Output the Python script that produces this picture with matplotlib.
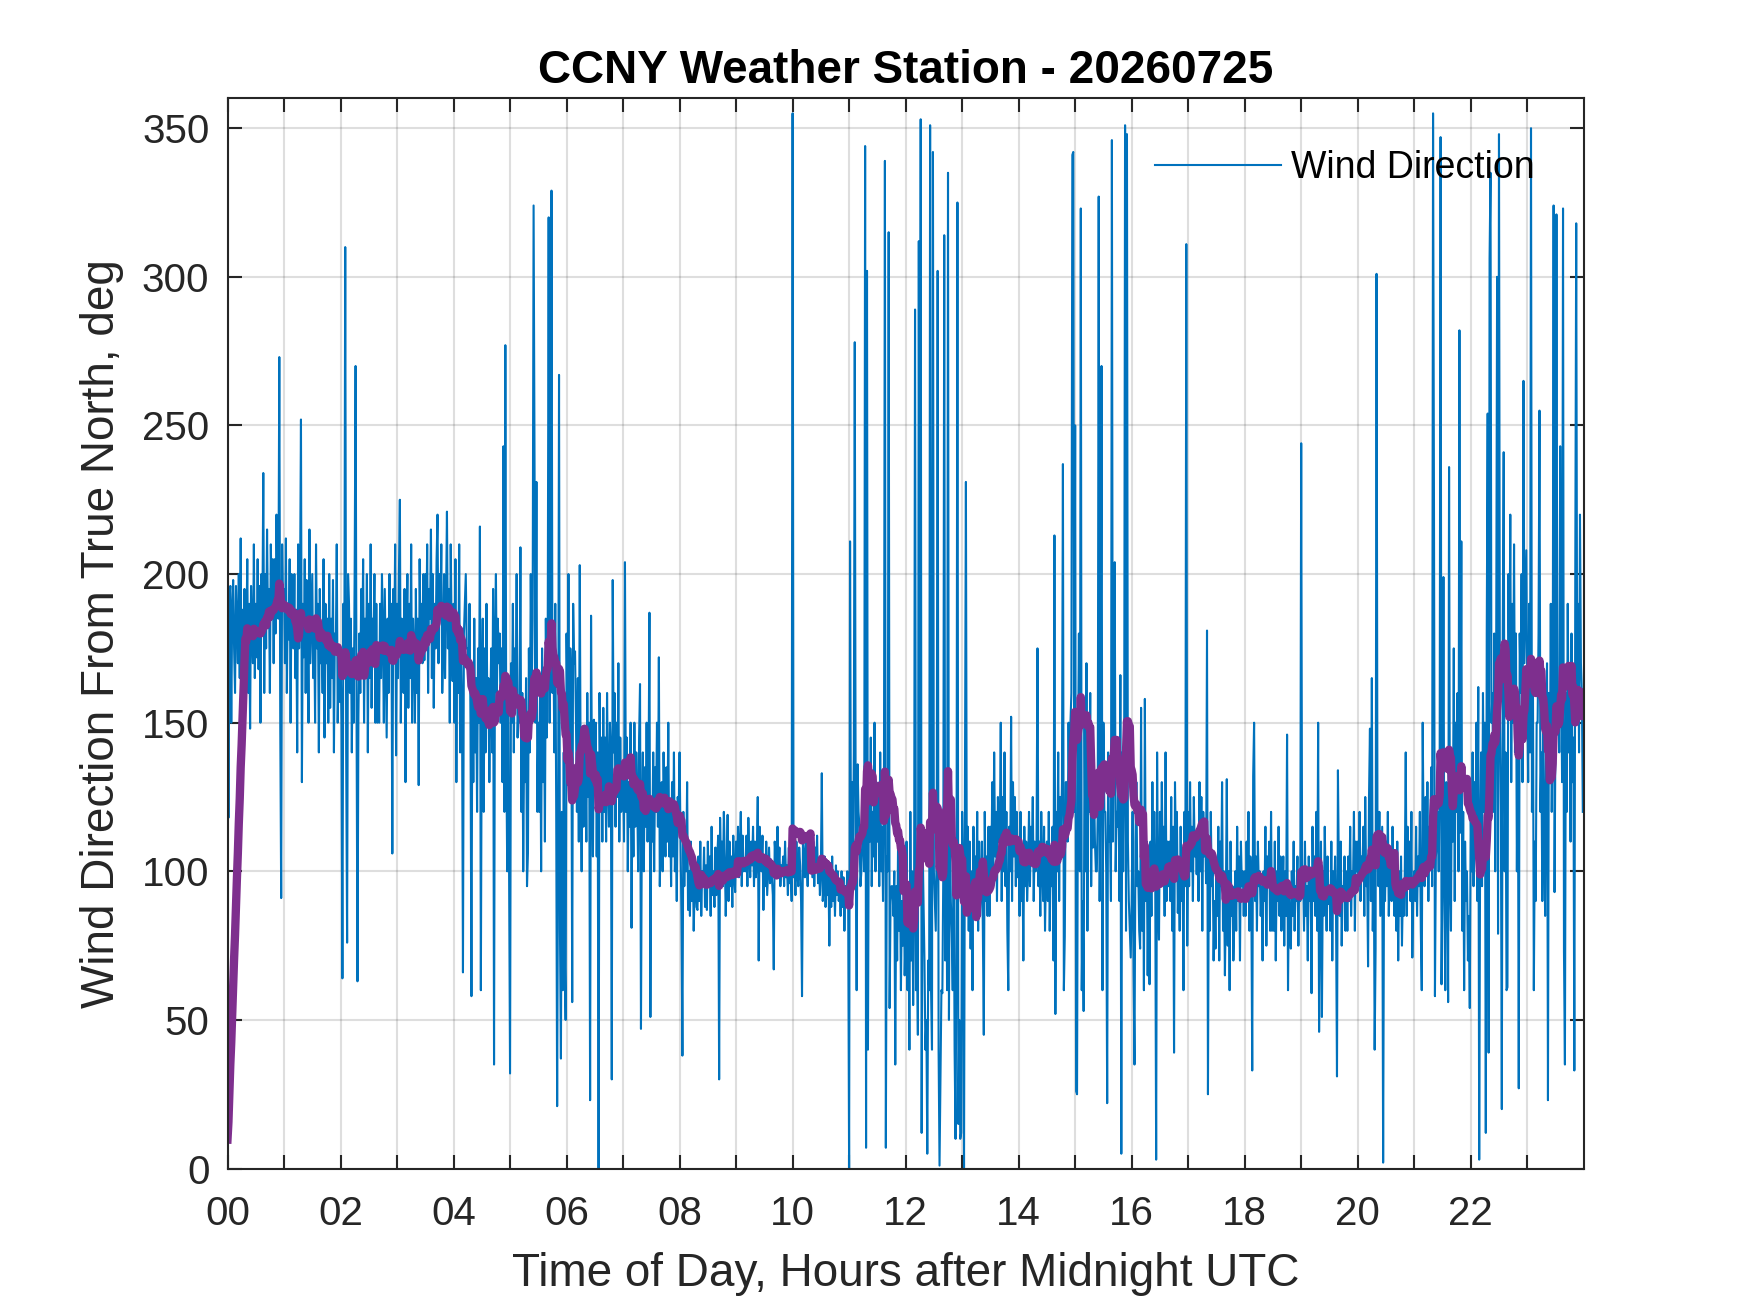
import numpy as np
import matplotlib
matplotlib.use("Agg")
import matplotlib.pyplot as plt

# one-minute wind direction samples (deg), one list per hour of the day
h00 = [195, 118, 192, 196, 150, 188, 198, 175, 160, 196, 185, 170, 200, 165, 212, 150, 188, 172, 195, 160,
       178, 205, 160, 190, 148, 196, 182, 170, 210, 165, 190, 172, 205, 168, 196, 150, 200, 183, 234, 160,
       200, 175, 215, 182, 195, 160, 210, 188, 205, 170, 205, 180, 220, 196, 185, 273, 150, 91, 210, 188]
h01 = [195, 170, 212, 160, 190, 178, 205, 150, 200, 190, 175, 200, 165, 188, 140, 210, 175, 195, 252, 130,
       190, 172, 205, 160, 198, 185, 150, 215, 170, 185, 200, 165, 185, 150, 210, 175, 190, 140, 195, 170,
       180, 160, 205, 145, 190, 170, 185, 150, 200, 155, 185, 165, 198, 140, 180, 175, 210, 150, 170, 157]
h02 = [175, 150, 64, 190, 165, 310, 140, 76, 200, 190, 160, 185, 140, 175, 150, 200, 270, 155, 63, 152,
       180, 160, 195, 170, 205, 150, 185, 165, 200, 140, 190, 165, 210, 155, 185, 175, 200, 150, 190, 150,
       175, 150, 190, 165, 200, 180, 150, 195, 170, 145, 185, 160, 200, 170, 190, 106, 195, 175, 210, 139]
h03 = [190, 165, 200, 225, 150, 185, 170, 160, 195, 130, 180, 200, 155, 190, 165, 210, 150, 185, 175, 150,
       195, 160, 185, 129, 205, 175, 190, 170, 200, 171, 200, 175, 210, 160, 195, 185, 215, 165, 200, 155,
       190, 175, 205, 220, 170, 200, 185, 210, 160, 175, 200, 165, 190, 221, 175, 195, 150, 210, 180, 164]
h04 = [190, 150, 205, 130, 185, 160, 210, 140, 175, 155, 66, 180, 190, 200, 175, 175, 165, 190, 150, 58,
       170, 130, 185, 140, 165, 120, 175, 150, 216, 60, 160, 185, 120, 175, 140, 190, 150, 165, 130, 155,
       175, 140, 195, 35, 180, 200, 160, 185, 170, 180, 150, 175, 130, 243, 120, 277, 140, 100, 165, 100]
h05 = [32, 170, 150, 190, 140, 175, 160, 200, 145, 158, 150, 209, 120, 160, 100, 145, 130, 165, 95, 106,
       175, 140, 200, 160, 185, 324, 235, 150, 231, 120, 150, 120, 165, 100, 175, 130, 160, 110, 185, 145,
       180, 320, 150, 190, 329, 160, 180, 140, 190, 121, 21, 110, 267, 80, 37, 120, 60, 140, 75, 50]
h06 = [180, 150, 200, 140, 175, 165, 56, 190, 170, 174, 150, 120, 165, 110, 203, 130, 100, 145, 115, 122,
       140, 110, 160, 125, 150, 23, 186, 130, 105, 151, 130, 150, 105, 140, 0, 160, 125, 145, 110, 155,
       120, 145, 110, 160, 130, 115, 150, 140, 30, 198, 140, 160, 115, 150, 125, 170, 110, 145, 120, 125]
h07 = [135, 110, 204, 120, 145, 100, 130, 115, 150, 81, 130, 105, 150, 115, 140, 125, 100, 145, 163, 47,
       120, 140, 100, 135, 115, 150, 110, 130, 187, 51, 125, 110, 140, 100, 135, 120, 150, 115, 172, 95,
       115, 130, 100, 140, 120, 105, 135, 110, 150, 105, 120, 95, 130, 105, 140, 100, 115, 90, 125, 120]
h08 = [140, 110, 85, 38, 120, 95, 115, 100, 130, 87, 100, 85, 110, 90, 105, 80, 95, 100, 88, 87,
       105, 90, 110, 85, 100, 95, 108, 88, 102, 87, 110, 95, 105, 85, 115, 92, 100, 88, 108, 92,
       105, 112, 30, 118, 100, 110, 95, 120, 105, 85, 100, 119, 90, 110, 95, 105, 88, 112, 98, 93]
h09 = [110, 100, 115, 98, 108, 120, 95, 112, 100, 102, 100, 112, 95, 118, 105, 98, 110, 102, 115, 95,
       110, 98, 105, 125, 70, 115, 108, 100, 112, 87, 105, 95, 110, 92, 100, 108, 96, 104, 98, 92,
       67, 110, 105, 98, 115, 100, 108, 95, 102, 100, 105, 95, 110, 98, 102, 92, 108, 96, 104, 90]
h10 = [355, 98, 105, 92, 110, 100, 95, 108, 102, 90, 58, 110, 105, 98, 112, 102, 95, 108, 100, 112,
       105, 98, 110, 95, 108, 100, 112, 96, 104, 92, 100, 133, 90, 95, 105, 88, 100, 92, 102, 75,
       100, 88, 105, 90, 98, 85, 102, 92, 100, 90, 95, 85, 100, 88, 98, 80, 95, 90, 100, 89]
h11 = [0, 211, 100, 130, 95, 140, 278, 110, 60, 136, 120, 115, 95, 100, 110, 120, 100, 344, 7, 302,
       40, 130, 110, 145, 95, 120, 105, 150, 100, 130, 110, 125, 95, 140, 100, 115, 90, 130, 339, 7,
       105, 100, 315, 54, 90, 95, 95, 85, 100, 35, 95, 70, 110, 80, 100, 60, 90, 75, 105, 65]
h12 = [80, 110, 60, 95, 40, 120, 70, 100, 55, 90, 289, 60, 80, 45, 312, 90, 353, 12, 110, 90,
       70, 40, 50, 5, 70, 60, 351, 60, 40, 342, 100, 90, 80, 110, 302, 40, 1, 30, 60, 59,
       100, 314, 70, 130, 60, 335, 50, 120, 90, 79, 60, 110, 40, 10, 80, 325, 15, 50, 10, 12]
h13 = [120, 100, 0, 130, 231, 90, 115, 80, 110, 74, 100, 60, 115, 85, 105, 90, 120, 80, 110, 85,
       95, 110, 80, 45, 120, 90, 105, 85, 115, 85, 115, 100, 130, 95, 140, 105, 120, 90, 125, 110,
       110, 150, 90, 125, 100, 140, 95, 120, 80, 60, 115, 100, 152, 90, 130, 105, 125, 95, 120, 98]
h14 = [110, 85, 120, 90, 105, 70, 115, 95, 110, 90, 100, 120, 95, 115, 105, 125, 90, 110, 100, 110,
       175, 95, 110, 85, 120, 100, 90, 115, 80, 100, 110, 90, 120, 80, 105, 95, 115, 70, 213, 52,
       120, 100, 140, 90, 125, 110, 130, 237, 60, 78, 130, 130, 110, 150, 120, 150, 160, 341, 342, 120]
h15 = [250, 26, 25, 140, 180, 100, 323, 60, 90, 53, 150, 100, 170, 80, 140, 120, 160, 95, 130, 108,
       130, 110, 100, 100, 120, 327, 90, 140, 270, 60, 150, 120, 120, 100, 22, 140, 110, 115, 90, 346,
       110, 150, 204, 100, 120, 115, 140, 90, 166, 5, 140, 100, 130, 351, 80, 348, 110, 90, 80, 71]
h16 = [90, 120, 66, 35, 110, 130, 95, 100, 80, 74, 155, 80, 120, 60, 158, 90, 110, 65, 100, 62,
       110, 85, 130, 95, 120, 100, 3, 140, 90, 77, 120, 95, 130, 100, 115, 85, 140, 90, 110, 95,
       110, 90, 125, 80, 115, 39, 130, 105, 120, 86, 100, 80, 115, 90, 105, 60, 120, 95, 311, 75]
h17 = [120, 95, 130, 100, 115, 90, 125, 105, 110, 99, 110, 90, 130, 100, 125, 80, 120, 105, 115, 96,
       181, 25, 110, 80, 120, 95, 105, 70, 90, 74, 100, 85, 115, 70, 110, 95, 130, 80, 100, 65,
       90, 131, 75, 100, 60, 110, 85, 95, 70, 84, 100, 80, 115, 90, 105, 70, 110, 95, 100, 85]
h18 = [100, 85, 110, 90, 120, 80, 105, 95, 33, 132, 150, 90, 105, 80, 110, 95, 100, 85, 95, 70,
       100, 90, 115, 75, 105, 95, 110, 80, 120, 80, 95, 80, 110, 70, 100, 90, 115, 85, 105, 80,
       90, 105, 75, 100, 85, 146, 60, 95, 80, 74, 100, 85, 110, 80, 95, 90, 105, 75, 100, 90]
h19 = [244, 95, 100, 80, 110, 85, 95, 70, 105, 90, 100, 59, 115, 90, 105, 85, 120, 80, 150, 46,
       90, 110, 51, 100, 85, 115, 95, 80, 105, 89, 95, 80, 110, 70, 100, 90, 105, 85, 31, 134,
       100, 85, 110, 75, 95, 90, 105, 80, 100, 80, 105, 90, 115, 85, 100, 95, 120, 80, 110, 100]
h20 = [110, 95, 120, 90, 105, 100, 115, 85, 125, 95, 100, 68, 125, 148, 90, 165, 80, 110, 40, 74,
       301, 110, 95, 120, 85, 100, 115, 2, 105, 90, 110, 95, 120, 85, 100, 105, 90, 115, 95, 85,
       95, 80, 110, 70, 100, 85, 105, 75, 95, 85, 100, 140, 85, 115, 95, 110, 90, 120, 71, 94]
h21 = [100, 90, 115, 85, 105, 95, 120, 80, 60, 150, 110, 95, 125, 100, 130, 90, 115, 105, 135, 95,
       355, 220, 58, 105, 110, 120, 100, 130, 347, 62, 100, 199, 90, 60, 130, 110, 56, 236, 95, 80,
       140, 110, 175, 90, 150, 120, 160, 100, 282, 113, 211, 80, 120, 60, 110, 90, 100, 70, 85, 54]
h22 = [120, 100, 140, 95, 130, 110, 150, 90, 162, 3, 110, 140, 95, 160, 120, 150, 12, 180, 254, 39,
       306, 335, 150, 160, 120, 180, 100, 170, 300, 79, 348, 150, 120, 20, 180, 241, 100, 140, 60, 61,
       200, 160, 220, 130, 190, 150, 210, 140, 180, 100, 150, 27, 180, 160, 200, 130, 265, 170, 190, 208]
h23 = [160, 130, 190, 140, 350, 120, 170, 60, 110, 90, 150, 150, 180, 255, 120, 140, 90, 160, 110, 85,
       140, 170, 23, 160, 130, 190, 120, 150, 324, 93, 150, 321, 150, 160, 140, 243, 170, 130, 323, 73,
       35, 160, 120, 190, 140, 170, 110, 180, 130, 145, 33, 200, 318, 160, 190, 140, 220, 170, 160, 120]

hours = [h00, h01, h02, h03, h04, h05, h06, h07, h08, h09, h10, h11,
         h12, h13, h14, h15, h16, h17, h18, h19, h20, h21, h22, h23]
wind_dir = np.concatenate([np.array(h, dtype=float) for h in hours])
t_hours = np.arange(len(wind_dir)) / 60.0

# 20 minute running mean, zero initial state like MATLAB filter()
n_avg = 20
wind_avg = np.convolve(wind_dir, np.ones(n_avg) / n_avg)[:len(wind_dir)]

plt.rcParams['font.family'] = ['Liberation Sans', 'DejaVu Sans']
axis_col = '#262626'

fig = plt.figure(figsize=(17.5, 13.13), dpi=100)
ax = fig.add_axes([0.13, 0.11, 0.775, 0.815])

line_wd, = ax.plot(t_hours, wind_dir, color='#0072BD', lw=1.5)
ax.plot(t_hours, wind_avg, color='#7E2F8E', lw=6, solid_joinstyle='round')

ax.set_xlim(0, 24)
ax.set_ylim(0, 360)
ax.set_xticks(range(24))
ax.set_xticklabels([f'{h:02d}' if h % 2 == 0 else '' for h in range(24)])
ax.set_yticks(range(0, 351, 50))

ax.grid(True, color=axis_col, alpha=0.15, lw=1.5)
for s in ax.spines.values():
    s.set_linewidth(1.5)
    s.set_color(axis_col)
ax.tick_params(direction='in', top=True, right=True, length=10, width=1.5,
               labelsize=29, colors=axis_col)
ax.tick_params(axis='x', pad=19)
ax.tick_params(axis='y', pad=13)

ax.set_title('CCNY Weather Station - 20260725', fontsize=33, fontweight='bold', pad=11)
ax.set_xlabel('Time of Day, Hours after Midnight UTC', fontsize=33, color=axis_col, labelpad=14)
ax.set_ylabel('Wind Direction From True North, deg', fontsize=33, color=axis_col, labelpad=13)

ax.legend([line_wd], ['Wind Direction'], loc='upper right', bbox_to_anchor=(0.975, 0.966),
          frameon=False, fontsize=27, handlelength=3.36, handletextpad=0.27,
          borderaxespad=0, borderpad=0.4)

fig.savefig('out.png', dpi=100)
